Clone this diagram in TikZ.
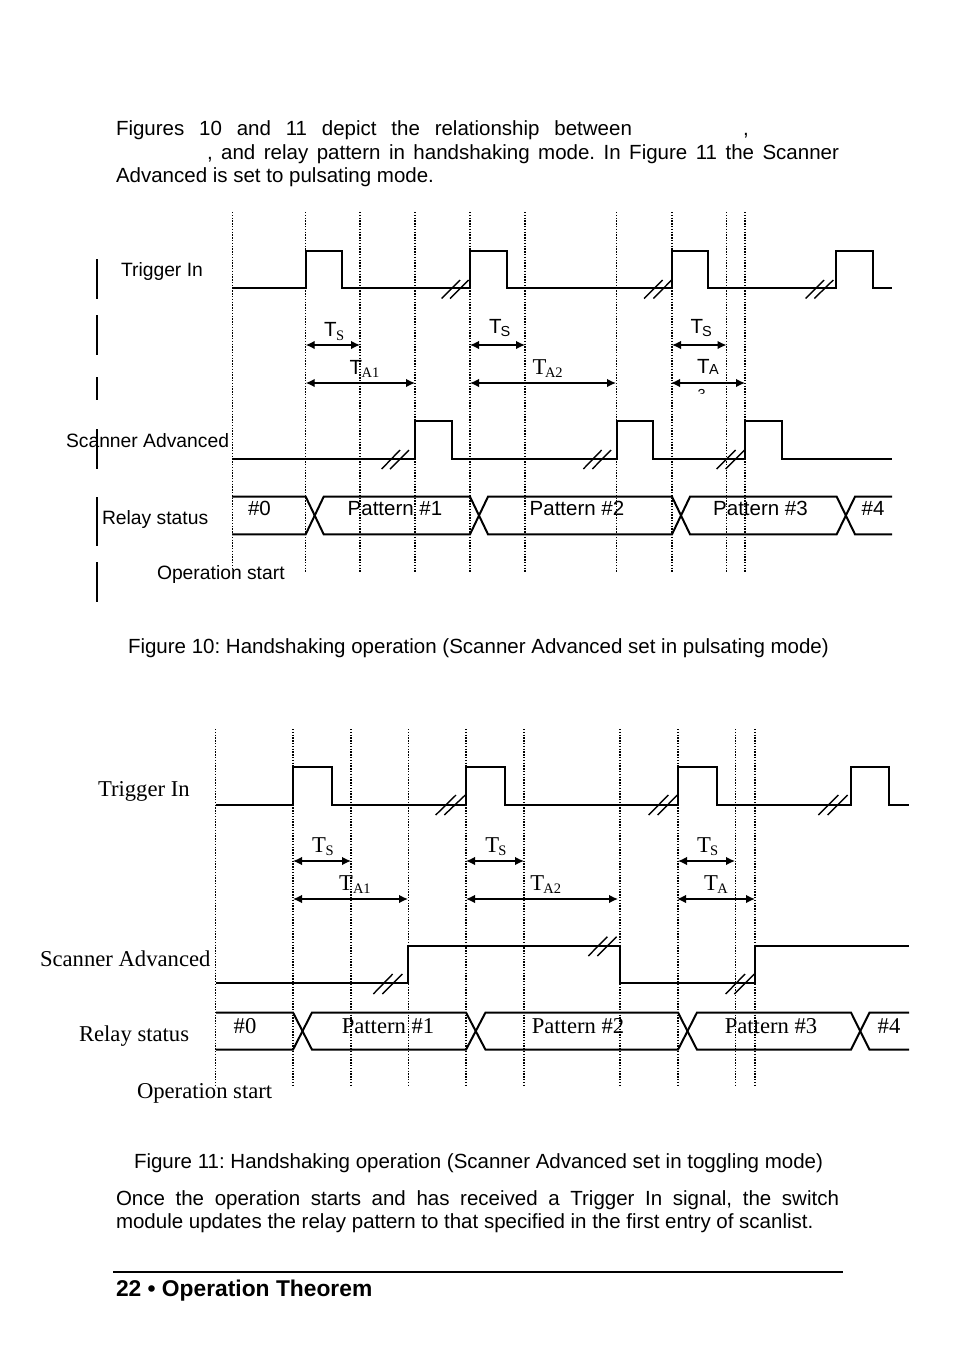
\documentclass[tikz,border=0pt]{standalone}
\usepackage{fontspec}
\setmainfont{Liberation Sans}
\newfontfamily\tms{Liberation Serif}
\usetikzlibrary{arrows.meta}
\tikzset{
  wave/.style={line width=2pt,line join=miter},
  bar/.style={line width=1.7pt},
  dots/.style={line width=1.2pt,dash pattern=on 1.3pt off 1.5pt},
  slash/.style={line width=1.4pt},
  dim/.style={line width=1.4pt,{Latex[length=9pt,width=8.5pt]}-{Latex[length=9pt,width=8.5pt]}},
  txt/.style={anchor=base west,inner sep=0pt,outer sep=0pt},
  mid/.style={anchor=base,inner sep=0pt,outer sep=0pt},
  arial/.style={font=\fontsize{19.3}{23}\selectfont},
  body/.style={font=\fontsize{20.5}{24}\selectfont},
  roman/.style={font=\tms\fontsize{22.65}{26}\selectfont},
  subrm/.style={font=\tms\fontsize{14.5}{17}\selectfont},
  subsf/.style={font=\fontsize{14.5}{17}\selectfont},
  bigT/.style={font=\fontsize{20.5}{24}\selectfont},
}
% #1 x of first slash bottom, #2 second bottom, #3 first top, #4 second top, #5 bottom y, #6 top y
\newcommand\brk[6]{\draw[slash] (#1,#5)--(#3,#6) (#2,#5)--(#4,#6);}
\newcommand\vdotline[3]{\draw[dots] (#1,#2)--(#1,#3);}
\begin{document}
\frenchspacing
\begin{tikzpicture}[x=1pt,y=-1pt]
\useasboundingbox (0,0) rectangle (954,1358);
\fill[white] (0,0) rectangle (954,1358);

% top paragraph
\node[txt,body] (p1) at (116,135) {\hbox to 516pt{Figures\hfill 10\hfill and\hfill 11\hfill depict\hfill the\hfill relationship\hfill between}};
\node[txt,body] (p1c) at (743,135) {,};
\node[txt,body] (p2) at (207,159) {\hbox to 632pt{,\hfill and\hfill relay\hfill pattern\hfill in\hfill handshaking\hfill mode.\hfill In\hfill Figure\hfill 11\hfill the\hfill Scanner}};
\node[txt,body] (p3) at (116,182) {Advanced is set to pulsating mode.};

% ---------- Figure 10 ----------
\foreach \x/\b in {232.5/568,305.7/572,360/572,415/572,470/572,525/572,616.7/572,672/572,726.7/572,745/572}
  {\vdotline{\x}{212}{\b}}

\draw[bar] (97,259)--(97,299) (97,315)--(97,355) (97,377)--(97,400) (97,429)--(97,469) (97,497)--(97,546) (97,562)--(97,602);

\draw[wave] (232,288)--(305.7,288)--(305.7,250.7)--(342.1,250.7)--(342.1,288)--(470,288)--(470,250.7)--(507,250.7)--(507,288)--(672,288)--(672,250.7)--(708.1,250.7)--(708.1,288)--(836,288)--(836,250.7)--(873,250.7)--(873,288)--(892,288);
\brk{441.7}{450}{460}{468.7}{298.5}{280}
\brk{644}{653.3}{662.7}{671.7}{298.5}{280}
\brk{805.7}{814.3}{824}{833.3}{298.5}{280}

\draw[wave] (232,458.7)--(415,458.7)--(415,421)--(452,421)--(452,458.7)--(616.7,458.7)--(616.7,421)--(653.3,421)--(653.3,458.7)--(745,458.7)--(745,421)--(781.7,421)--(781.7,458.7)--(892,458.7);
\brk{381.7}{390}{400}{409}{469}{450}
\brk{583.3}{592.3}{601.7}{611}{469}{450}
\brk{716.7}{725.7}{735.7}{744.5}{469}{450}

\draw[wave] (232,496.7)--(305.7,496.7)--(323.7,534.3)--(470,534.3)--(488,496.7)--(672,496.7)--(690,534.3)--(836.7,534.3)--(855,496.7)--(892,496.7);
\draw[wave] (232,534.3)--(305.7,534.3)--(323.7,496.7)--(470,496.7)--(488,534.3)--(672,534.3)--(690,496.7)--(836.7,496.7)--(855,534.3)--(892,534.3);

\coordinate (as1) at (305.7,345); \coordinate (ae1) at (360,345);
\coordinate (as2) at (470,345);   \coordinate (ae2) at (525,345);
\coordinate (as3) at (672,345);   \coordinate (ae3) at (726.5,345);
\coordinate (bs1) at (305.7,383); \coordinate (be1) at (415,383);
\coordinate (bs2) at (470,383);   \coordinate (be2) at (616,383);
\coordinate (bs3) at (671,383);   \coordinate (be3) at (745,383);
\foreach \n in {1,2,3} {\draw[dim] (as\n)--(ae\n); \draw[dim] (bs\n)--(be\n);}

\node[txt,arial] (a1) at (121,276) {Trigger In};
\node[txt,arial] (a2) at (66,447) {Scanner Advanced};
\node[txt,arial] (a3) at (102,524) {Relay status};
\node[txt,arial] (a4) at (157,579) {Operation start};

\node[mid,body] (a5) at (259.5,515) {\#0};
\node[mid,body] (a6) at (395,515) {Pattern \#1};
\node[mid,body] (a7) at (577,515) {Pattern \#2};
\node[mid,body] (a8) at (760.5,515) {Pattern \#3};
\node[mid,body] (a9) at (873,515) {\#4};

\node[txt,bigT] (t1) at (324,336.7) {T};
\node[txt,subrm] (t1s) at (336,340) {S};
\node[txt,bigT] (t2) at (489,333) {T};
\node[txt,subsf] (t2s) at (500.5,336) {S};
\node[txt,bigT] (t3) at (690.5,333) {T};
\node[txt,subsf] (t3s) at (702,336) {S};
\node[txt,bigT] (t4) at (349.5,374) {T};
\node[txt,subrm] (t4s) at (361.7,377) {A1};
\node[txt,roman] (t5) at (532.5,374) {T};
\node[txt,subrm] (t5s) at (545,377) {A2};
\node[txt,bigT] (t6) at (697,373) {T};
\node[txt,subsf] (t6s) at (709,374.7) {A};
\begin{scope}
  \clip (690,385) rectangle (715,393);
  \node[txt,subsf] (t6n) at (697.5,399) {3};
\end{scope}

\node[txt,body] (c10) at (128,653) {Figure 10: Handshaking operation (Scanner Advanced set in pulsating mode)};

% ---------- Figure 11 ----------
\foreach \x/\b in {215.7/1085,293/1085,351/1085,408.3/1085,466/1085,524/1085,620/1085,678/1085,735.7/1085,755/1085}
  {\vdotline{\x}{729}{\b}}

\draw[wave] (216,804.7)--(293,804.7)--(293,767)--(331.7,767)--(331.7,804.7)--(466,804.7)--(466,767)--(504.7,767)--(504.7,804.7)--(678,804.7)--(678,767)--(716.7,767)--(716.7,804.7)--(850.7,804.7)--(850.7,767)--(889,767)--(889,804.7)--(909,804.7);
\brk{435.7}{444.3}{456}{465.3}{815}{795}
\brk{648.7}{657.7}{668.3}{677.3}{815}{795}
\brk{818.3}{827.7}{838.3}{847.7}{815}{795}

\draw[wave] (216,983.1)--(408.3,983.1)--(408.3,946)--(620,946)--(620,983.1)--(755,983.1)--(755,946)--(909,946);
\brk{373.3}{382.3}{392.7}{402.3}{994}{974}
\brk{588.3}{597.3}{607.3}{616.7}{956}{936.7}
\brk{725.7}{734.3}{745}{754.3}{994}{974}

\draw[wave] (216,1012.5)--(293,1012.5)--(312,1049.7)--(466,1049.7)--(485.5,1012.5)--(678,1012.5)--(697,1049.7)--(851,1049.7)--(869.5,1012.5)--(909,1012.5);
\draw[wave] (216,1049.7)--(293,1049.7)--(312,1012.5)--(466,1012.5)--(485.5,1049.7)--(678,1049.7)--(697,1012.5)--(851,1012.5)--(869.5,1049.7)--(909,1049.7);

\coordinate (cs1) at (293,861);   \coordinate (ce1) at (351,861);
\coordinate (cs2) at (466,861);   \coordinate (ce2) at (524,861);
\coordinate (cs3) at (678,861);   \coordinate (ce3) at (735,861);
\coordinate (ds1) at (293,899);   \coordinate (de1) at (408,899);
\coordinate (ds2) at (466,899);   \coordinate (de2) at (618,899);
\coordinate (ds3) at (677,899);   \coordinate (de3) at (755,899);
\foreach \n in {1,2,3} {\draw[dim] (cs\n)--(ce\n); \draw[dim] (ds\n)--(de\n);}

\node[txt,roman] (b1) at (98,796) {Trigger In};
\node[txt,roman] (b2) at (40,966) {Scanner Advanced};
\node[txt,roman] (b3) at (79,1041) {Relay status};
\node[txt,roman] (b4) at (137,1098) {Operation start};

\node[mid,roman] (b5) at (245,1033) {\#0};
\node[mid,roman] (b6) at (388,1033) {Pattern \#1};
\node[mid,roman] (b7) at (578,1033) {Pattern \#2};
\node[mid,roman] (b8) at (771,1033) {Pattern \#3};
\node[mid,roman] (b9) at (889,1033) {\#4};

\node[txt,roman] (u1) at (312,852) {T};
\node[txt,subrm] (u1s) at (325.7,855) {S};
\node[txt,roman] (u2) at (485.4,852) {T};
\node[txt,subrm] (u2s) at (498.3,855) {S};
\node[txt,roman] (u3) at (697,852) {T};
\node[txt,subrm] (u3s) at (710,855) {S};
\node[txt,roman] (u4) at (339,890) {T};
\node[txt,subrm] (u4s) at (353,893.5) {A1};
\node[txt,roman] (u5) at (530.4,890) {T};
\node[txt,subrm] (u5s) at (543.3,893.5) {A2};
\node[txt,roman] (u6) at (704,890) {T};
\node[txt,subrm] (u6s) at (717.3,893.5) {A};

\node[txt,body] (c11) at (134,1168) {Figure 11: Handshaking operation (Scanner Advanced set in toggling mode)};

% bottom paragraph
\node[txt,body] (q1) at (116,1205) {\hbox to 723pt{Once\hfill the\hfill operation\hfill starts\hfill and\hfill has\hfill received\hfill a\hfill Trigger\hfill In\hfill signal,\hfill the\hfill switch}};
\node[txt,body] (q2) at (116,1228) {module updates the relay pattern to that specified in the first entry of scanlist.};

\draw[line width=2pt] (113,1272)--(843,1272);
\node[txt,font=\bfseries\fontsize{22.8}{27}\selectfont] (f) at (116,1296) {22 • Operation Theorem};
\end{tikzpicture}
\end{document}
